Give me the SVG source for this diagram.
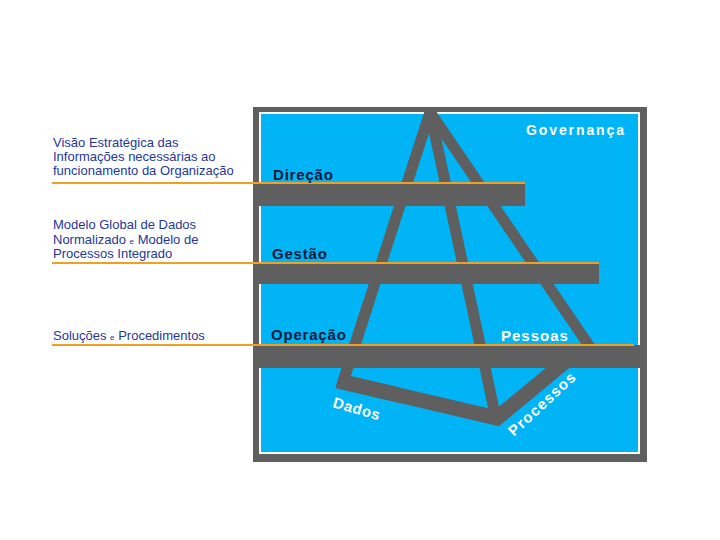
<svg xmlns="http://www.w3.org/2000/svg" width="720" height="540" viewBox="0 0 720 540">
<style>
.note{font-family:"Liberation Sans",Arial,sans-serif;font-size:13px;fill:#24389A}
.small{font-size:8px}
.lvl{font-family:"Liberation Sans",Arial,sans-serif;font-size:15px;font-weight:bold;fill:#0A1A3A;letter-spacing:0.8px}
.wl{font-family:"Liberation Sans",Arial,sans-serif;font-size:15px;font-weight:bold;fill:#FFFFFF}
.bar{fill:#5F5F5F}
.leg{stroke:#5F5F5F;stroke-width:11;fill:none}
.orange{stroke:#F0A020;stroke-width:2}
</style>
<defs>
<clipPath id="frameClip"><rect x="253" y="107" width="394" height="355"/></clipPath>
</defs>
<rect width="720" height="540" fill="#FFFFFF"/>
<g id="frame">
<rect x="253" y="107" width="394" height="355" fill="#5F5F5F"/>
<rect x="259" y="112" width="381" height="342" fill="#FFFFFF"/>
<rect x="261" y="114" width="377" height="338" fill="#00B4F5"/>
</g>
<g id="pyramid" clip-path="url(#frameClip)">
<path class="leg" d="M 343 382 L 430 112 L 592 350" stroke-linejoin="miter"/>
<path class="leg" d="M 428.8 106 L 495 414"/>
<path d="M 343 382 L 497 418 L 578 351" stroke="#5F5F5F" stroke-width="15" fill="none" stroke-linejoin="miter"/>
<polygon fill="#5F5F5F" points="363.6,300 335.3,387.9 400,403 400,387.6 350.7,376.1 375.2,300"/>
</g>
<g id="connectors">
<rect class="bar" x="253" y="183" width="272" height="23"/>
<rect class="bar" x="253" y="263" width="346" height="21"/>
<rect class="bar" x="253" y="345" width="390" height="23"/>
<line class="orange" x1="52" y1="183" x2="525" y2="183"/>
<line class="orange" x1="52" y1="263" x2="599" y2="263"/>
<line class="orange" x1="52" y1="345" x2="634" y2="345"/>
</g>
<g id="note-direcao">
<text class="note" x="53" y="147">Visão Estratégica das</text>
<text class="note" x="53" y="161">Informações necessárias ao</text>
<text class="note" x="53" y="175">funcionamento da Organização</text>
</g>
<g id="note-gestao">
<text class="note" x="53" y="229">Modelo Global de Dados</text>
<text class="note" x="53" y="243.5">Normalizado <tspan class="small">e</tspan> Modelo de</text>
<text class="note" x="53" y="258">Processos Integrado</text>
</g>
<g id="note-operacao">
<text class="note" x="53" y="340">Soluções  <tspan class="small">e</tspan> Procedimentos</text>
</g>
<g id="level-direcao"><text class="lvl" x="273" y="180">Direção</text></g>
<g id="level-gestao"><text class="lvl" x="272" y="259">Gestão</text></g>
<g id="level-operacao"><text class="lvl" x="271" y="340">Operação</text></g>
<g id="governanca"><text class="wl" x="526" y="135" style="font-size:14px;letter-spacing:1.9px">Governança</text></g>
<g id="pessoas"><text class="wl" x="501" y="341" style="letter-spacing:1px">Pessoas</text></g>
<g id="dados"><text class="wl" x="332" y="407" transform="rotate(16 332 407)" style="letter-spacing:0.6px">Dados</text></g>
<g id="processos"><text class="wl" x="514" y="437" transform="rotate(-43 514 437)" style="letter-spacing:1.2px">Processos</text></g>
</svg>
